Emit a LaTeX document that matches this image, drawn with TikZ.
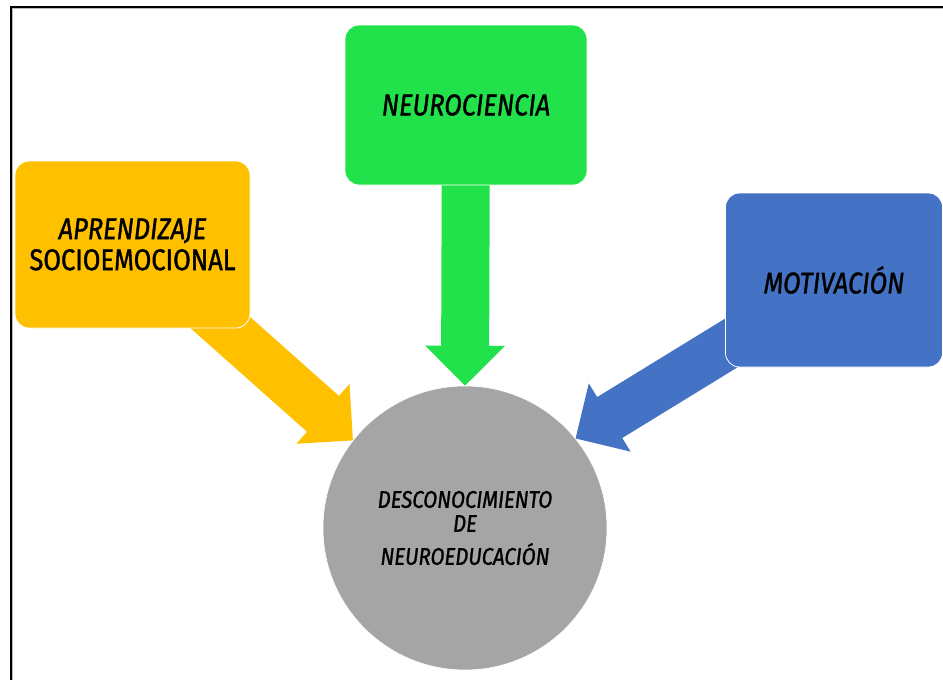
\documentclass[tikz,border=0pt]{standalone}
\usepackage{fontspec}
\newfontfamily\lblfont{Fira Sans}[FakeStretch=0.85, FakeBold=1.2]
\usetikzlibrary{calc,backgrounds}

\definecolor{ylw}{HTML}{FFC000}
\definecolor{grn}{HTML}{22E24B}
\definecolor{blu}{HTML}{4472C4}
\definecolor{gry}{HTML}{A5A5A5}

\tikzset{
  topic/.style={rounded corners=14pt, draw=white, line width=0.8pt, inner sep=0pt,
                align=center, text=black, font=\lblfont\fontsize{30}{31}\selectfont},
  core/.style={circle, minimum size=284pt, inner sep=0pt, fill=gry, draw=white,
               line width=0.6pt, align=center, text=black,
               font=\lblfont\itshape\fontsize{24}{24}\selectfont},
  frameline/.style={line width=2pt, black}
}

% block arrow from a topic box (tail hidden under it) to a point on the core rim
% #1 box node, #2 rim point, #3 colour
\newcommand\blockarrow[3]{%
  \coordinate (#1-tip) at (#2);
  \coordinate (#1-hd) at ($(#1-tip)!40pt!(#1.center)$);
  \fill[#3] (#1-tip)
    -- ($(#1-hd)!40pt!90:(#1-tip)$) -- ($(#1-hd)!24pt!90:(#1-tip)$)
    -- ($(#1.center)!24pt!90:(#1-tip)$) -- ($(#1.center)!24pt!-90:(#1-tip)$)
    -- ($(#1-hd)!24pt!-90:(#1-tip)$) -- ($(#1-hd)!40pt!-90:(#1-tip)$) -- cycle;}

\begin{document}
\begin{tikzpicture}[x=1pt, y=-1pt]
  \useasboundingbox (0,0) rectangle (943,680);

  % outer frame (open to the right and bottom)
  \draw[frameline] (944,6.5) -- (10.5,6.5) -- (10.5,681);
  \draw[gray!55, line width=0.8pt] (944,8.6) -- (12.6,8.6) -- (12.6,681);

  \node[topic, fill=ylw, minimum width=235pt, minimum height=167pt] (soc) at (132.5,244.5)
    {\itshape APRENDIZAJE\\ SOCIOEMOCIONAL};
  \node[topic, fill=grn, minimum width=242pt, minimum height=160pt] (neu) at (466,105)
    {\itshape NEUROCIENCIA};
  \node[topic, fill=blu, minimum width=217pt, minimum height=174pt] (mot) at (834,280)
    {\itshape MOTIVACIÓN};
  \node[core] (desc) at (465,528)
    {DESCONOCIMIENTO\\ DE\\[9pt] NEUROEDUCACIÓN};

  \begin{pgfonlayer}{background}
    \fill[white] (0,0) rectangle (943,680);
    \blockarrow{soc}{desc.142}{ylw}
    \blockarrow{neu}{desc.90}{grn}
    \blockarrow{mot}{desc.39}{blu}
  \end{pgfonlayer}
\end{tikzpicture}
\end{document}
